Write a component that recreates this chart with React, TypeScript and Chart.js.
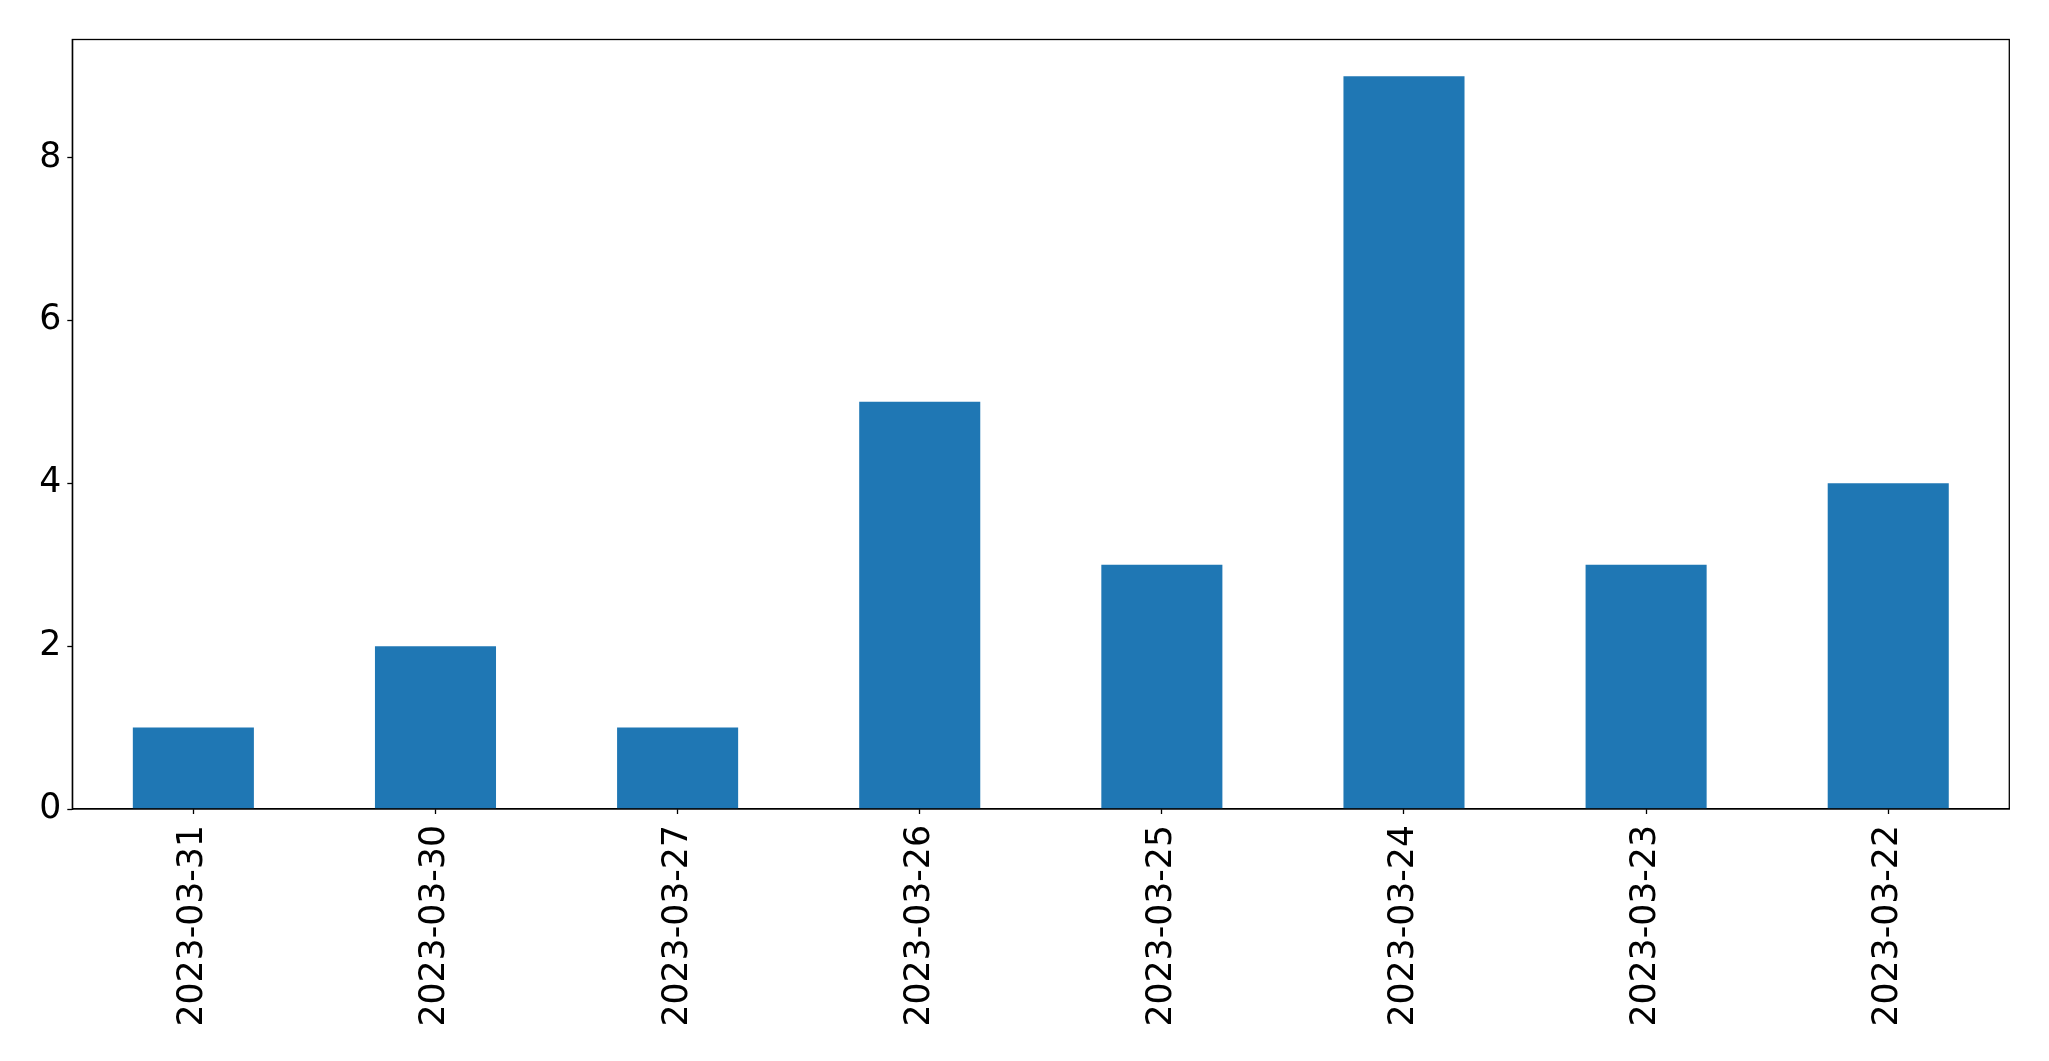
import React, { useEffect, useRef } from "react";
import { Chart, registerables } from "chart.js";

Chart.register(...registerables);

const categories = [
  "2023-03-31",
  "2023-03-30",
  "2023-03-27",
  "2023-03-26",
  "2023-03-25",
  "2023-03-24",
  "2023-03-23",
  "2023-03-22",
];
const counts = [1, 2, 1, 5, 3, 9, 3, 4];
const yTicks = [0, 2, 4, 6, 8];

const W = 2049;
const H = 1061;
const FONT = { family: "'DejaVu Sans', sans-serif", size: 34.7 };

const framePlugin = {
  id: "frame",
  afterDraw(chart: any) {
    const { ctx, chartArea } = chart;
    ctx.save();
    ctx.strokeStyle = "#000";
    ctx.lineWidth = 1.3;
    ctx.strokeRect(chartArea.left, chartArea.top, chartArea.right - chartArea.left, chartArea.bottom - chartArea.top);
    ctx.restore();
  },
};

export default function App() {
  const ref = useRef<HTMLCanvasElement | null>(null);
  useEffect(() => {
    const canvas = ref.current!;
    const chart = new Chart(canvas, {
      type: "bar",
      data: {
        labels: categories,
        datasets: [
          {
            data: counts,
            backgroundColor: "#1f77b4",
            borderWidth: 0,
            categoryPercentage: 1,
            barPercentage: 0.5,
          },
        ],
      },
      options: {
        responsive: false,
        animation: false,
        devicePixelRatio: 1,
        layout: { padding: { left: 0, top: 39.5, right: 39.7, bottom: 0 } },
        plugins: { legend: { display: false }, tooltip: { enabled: false } },
        scales: {
          x: {
            grid: {
              offset: false,
              drawOnChartArea: false,
              drawTicks: true,
              tickLength: 5,
              tickColor: "#000",
              tickWidth: 1.3,
            },
            border: { display: true, color: "#000", width: 1.3 },
            ticks: {
              color: "#000",
              font: FONT,
              minRotation: 90,
              maxRotation: 90,
              padding: 11,
              autoSkip: false,
            },
            afterFit(scale: any) {
              scale.height = H - 809;
            },
          },
          y: {
            min: 0,
            max: 9.45,
            afterBuildTicks(scale: any) {
              scale.ticks = yTicks.map((v) => ({ value: v }));
            },
            grid: {
              drawOnChartArea: false,
              drawTicks: true,
              tickLength: 5,
              tickColor: "#000",
              tickWidth: 1.3,
            },
            border: { display: true, color: "#000", width: 1.3 },
            ticks: {
              color: "#000",
              font: FONT,
              padding: 6,
              includeBounds: false,
            },
            afterFit(scale: any) {
              scale.width = 72.3;
            },
          },
        },
      },
      plugins: [framePlugin],
    });
    return () => chart.destroy();
  }, []);
  return (
    <div style={{ position: "fixed", left: 0, top: 0, width: W, height: H, background: "#fff" }}>
      <canvas ref={ref} width={W} height={H} style={{ display: "block", width: W, height: H }} />
    </div>
  );
}
